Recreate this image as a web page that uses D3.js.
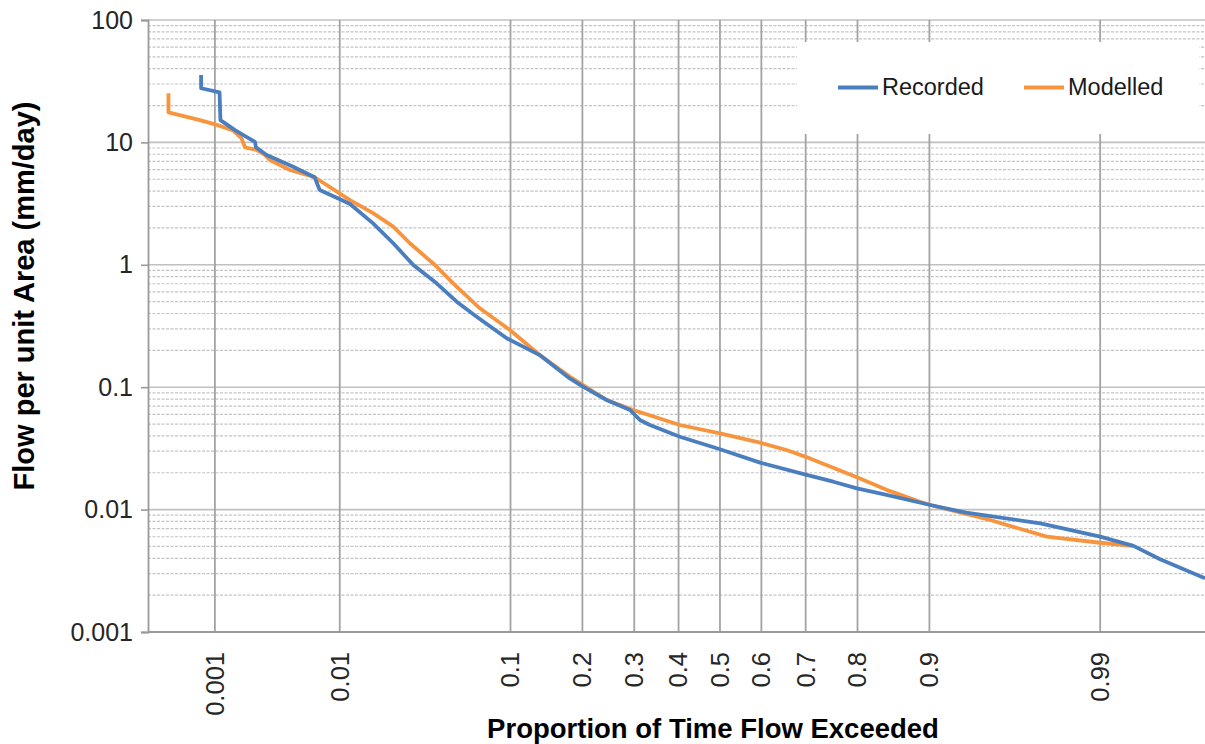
<!DOCTYPE html>
<html>
<head>
<meta charset="utf-8">
<script src="https://cdn.jsdelivr.net/npm/d3@7"></script>
<style>
  html, body { margin: 0; padding: 0; background: #fff; }
  svg { display: block; font-family: "Liberation Sans", Arial, sans-serif; }
</style>
</head>
<body>
<svg id="chart" width="1205" height="744"></svg>
<script>
// ---------- data ----------
const xTickValues = [0.001, 0.01, 0.1, 0.2, 0.3, 0.4, 0.5, 0.6, 0.7, 0.8, 0.9, 0.99];
const xTickLabels = ["0.001", "0.01", "0.1", "0.2", "0.3", "0.4", "0.5", "0.6", "0.7", "0.8", "0.9", "0.99"];
const yTickValues = [0.001, 0.01, 0.1, 1, 10, 100];
const yTickLabels = ["0.001", "0.01", "0.1", "1", "10", "100"];

const recordedP = [0.00075, 0.00075, 0.0011, 0.00112, 0.0015, 0.00222, 0.00226, 0.00277, 0.00451, 0.00657,
  0.00716, 0.0103, 0.0118, 0.0169, 0.0228, 0.0303, 0.0415, 0.0536, 0.0683, 0.096,
  0.135, 0.179, 0.201, 0.244, 0.291, 0.312, 0.334, 0.403, 0.5, 0.597,
  0.702, 0.756, 0.799, 0.846, 0.901, 0.934, 0.975, 0.990, 0.9943, 0.99646, 0.9985];
const recordedQ = [35.6, 27.7, 25.6, 15.2, 12.6, 10.1, 9.12, 7.89, 6.33, 5.19,
  4.09, 3.38, 3.14, 2.18, 1.50, 0.996, 0.706, 0.500, 0.377, 0.251,
  0.183, 0.118, 0.101, 0.0786, 0.0651, 0.0540, 0.0491, 0.0394, 0.0311, 0.0242,
  0.0192, 0.0169, 0.0149, 0.0132, 0.0109, 0.00944, 0.00773, 0.00601, 0.00505, 0.00393, 0.00275];

const modelledP = [0.00037, 0.00037, 0.00073, 0.00104, 0.00145, 0.00171, 0.00183, 0.00229, 0.00268, 0.00294,
  0.00425, 0.00657, 0.0118, 0.0169, 0.0228, 0.0289, 0.0406, 0.0513, 0.0709, 0.0994,
  0.135, 0.179, 0.244, 0.298, 0.403, 0.5, 0.597, 0.658, 0.709, 0.799,
  0.846, 0.8895, 0.901, 0.9508, 0.9772, 0.990, 0.99413];
const modelledQ = [25.2, 17.6, 15.2, 13.9, 12.5, 10.8, 9.12, 8.67, 7.89, 7.18,
  5.95, 5.19, 3.38, 2.64, 2.05, 1.50, 0.996, 0.706, 0.441, 0.293,
  0.183, 0.122, 0.0786, 0.0651, 0.0491, 0.0420, 0.0352, 0.0307, 0.0262, 0.0184,
  0.0145, 0.0116, 0.0109, 0.00822, 0.00601, 0.00536, 0.00505];

const seriesNames = ["Recorded", "Modelled"];
const seriesColors = ["#4a7ebf", "#f7953f"];

// ---------- helpers ----------
// inverse standard normal CDF (Acklam)
function probit(p) {
  const a = [-3.969683028665376e+01, 2.209460984245205e+02, -2.759285104469687e+02, 1.383577518672690e+02, -3.066479806614716e+01, 2.506628277459239e+00];
  const b = [-5.447609879822406e+01, 1.615858368580409e+02, -1.556989798598866e+02, 6.680131188771972e+01, -1.328068155288572e+01];
  const c = [-7.784894002430293e-03, -3.223964580411365e-01, -2.400758277161838e+00, -2.549671080236778e+00, 4.374664141464968e+00, 2.938163982698783e+00];
  const d = [7.784695709041462e-03, 3.224671290700398e-01, 2.445134137142996e+00, 3.754408661907416e+00];
  const plow = 0.02425, phigh = 1 - plow;
  let q, r;
  if (p < plow) {
    q = Math.sqrt(-2 * Math.log(p));
    return (((((c[0]*q+c[1])*q+c[2])*q+c[3])*q+c[4])*q+c[5]) / ((((d[0]*q+d[1])*q+d[2])*q+d[3])*q+1);
  } else if (p <= phigh) {
    q = p - 0.5; r = q*q;
    return (((((a[0]*r+a[1])*r+a[2])*r+a[3])*r+a[4])*r+a[5])*q / (((((b[0]*r+b[1])*r+b[2])*r+b[3])*r+b[4])*r+1);
  } else {
    q = Math.sqrt(-2 * Math.log(1 - p));
    return -(((((c[0]*q+c[1])*q+c[2])*q+c[3])*q+c[4])*q+c[5]) / ((((d[0]*q+d[1])*q+d[2])*q+d[3])*q+1);
  }
}

// ---------- layout ----------
const svg = d3.select("#chart");
const plot = { left: 148, right: 1205, top: 20, bottom: 632 };
const pDomain = [0.000233, 0.9985];

const xz = d3.scaleLinear().domain(pDomain.map(probit)).range([plot.left, plot.right]);
const x = p => xz(probit(p));
const y = d3.scaleLog().domain([0.001, 100]).range([plot.bottom, plot.top]);

// minor horizontal gridlines
const minors = [];
[0.001, 0.01, 0.1, 1, 10].forEach(dec => { for (let k = 2; k <= 9; k++) minors.push(dec * k); });
svg.append("g").selectAll("line").data(minors).join("line")
  .attr("x1", plot.left).attr("x2", plot.right)
  .attr("y1", d => y(d)).attr("y2", d => y(d))
  .attr("stroke", "#c4c4c4").attr("stroke-width", 1.2).attr("stroke-dasharray", "3,1.5");

// major horizontal gridlines
svg.append("g").selectAll("line").data(yTickValues.slice(1)).join("line")
  .attr("x1", plot.left).attr("x2", plot.right)
  .attr("y1", d => y(d)).attr("y2", d => y(d))
  .attr("stroke", "#c0c0c0").attr("stroke-width", 1.6);

// vertical gridlines
svg.append("g").selectAll("line").data(xTickValues).join("line")
  .attr("x1", d => x(d)).attr("x2", d => x(d))
  .attr("y1", plot.top).attr("y2", plot.bottom)
  .attr("stroke", "#a3a3a3").attr("stroke-width", 1.8);

// y axis
const yAxis = svg.append("g").attr("transform", `translate(${plot.left},0)`)
  .call(d3.axisLeft(y).tickValues(yTickValues)
    .tickFormat((d, i) => yTickLabels[i]).tickSize(7).tickPadding(8));
yAxis.select(".domain").attr("stroke", "#9a9a9a").attr("stroke-width", 1.8);
yAxis.selectAll(".tick line").attr("stroke", "#9a9a9a").attr("stroke-width", 1.6);
yAxis.selectAll(".tick text").attr("font-size", 25).attr("fill", "#262626")
  .attr("font-family", "'Liberation Sans', Arial, sans-serif");

// x axis line
svg.append("line").attr("x1", plot.left).attr("x2", plot.right)
  .attr("y1", y(0.001)).attr("y2", y(0.001))
  .attr("stroke", "#9a9a9a").attr("stroke-width", 1.8);

// x tick labels (rotated)
svg.append("g").selectAll("text").data(xTickValues).join("text")
  .attr("transform", d => `translate(${x(d)},652) rotate(-90)`)
  .attr("text-anchor", "end").attr("dy", "0.35em")
  .attr("font-size", 25.5).attr("fill", "#262626")
  .text((d, i) => xTickLabels[i]);

// legend box
svg.append("rect").attr("x", 797).attr("y", 42).attr("width", 402).attr("height", 92).attr("fill", "#fff");

// series lines
const line = d3.line().x(d => x(d.p)).y(d => y(d.q));
const recorded = recordedP.map((p, i) => ({ p, q: recordedQ[i] }));
const modelled = modelledP.map((p, i) => ({ p, q: modelledQ[i] }));

svg.append("defs").append("clipPath").attr("id", "clip").append("rect")
  .attr("x", plot.left).attr("y", plot.top).attr("width", plot.right - plot.left + 10).attr("height", plot.bottom - plot.top);

const g = svg.append("g").attr("clip-path", "url(#clip)");
[modelled, recorded].forEach((data, i) => {
  const idx = i === 0 ? 1 : 0;
  g.append("path").datum(data).attr("d", line)
    .attr("fill", "none").attr("stroke", seriesColors[idx]).attr("stroke-width", 3.8)
    .attr("stroke-linejoin", "round").attr("stroke-linecap", "butt");
});

// legend
const legendX = [838, 1024];
seriesNames.forEach((name, i) => {
  svg.append("line").attr("x1", legendX[i]).attr("x2", legendX[i] + 40)
    .attr("y1", 87.5).attr("y2", 87.5)
    .attr("stroke", seriesColors[i]).attr("stroke-width", 3.8);
  svg.append("text").attr("x", legendX[i] + 44).attr("y", 95)
    .attr("font-size", 23.5).attr("fill", "#1a1a1a").text(name);
});

// axis titles
svg.append("text").attr("x", 713).attr("y", 738).attr("text-anchor", "middle")
  .attr("font-size", 27.5).attr("font-weight", "bold").attr("fill", "#000")
  .text("Proportion of Time Flow Exceeded");
svg.append("text").attr("transform", "translate(33.5,296) rotate(-90)").attr("text-anchor", "middle")
  .attr("font-size", 29).attr("font-weight", "bold").attr("fill", "#000")
  .text("Flow per unit Area (mm/day)");
</script>
</body>
</html>
